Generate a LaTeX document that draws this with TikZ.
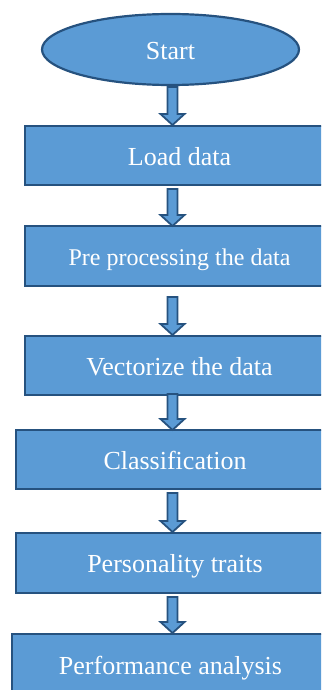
\documentclass[tikz,border=0pt]{standalone}
\usepackage{fontspec}
\setmainfont{Liberation Serif}
\usepackage{tikz}
\usetikzlibrary{shapes.geometric,calc,positioning}

\definecolor{boxblue}{HTML}{5B9BD5}
\definecolor{edgeblue}{HTML}{26527F}

% block arrow from the foot of one node down to the head of the next
\newcommand{\flowarrow}[4]{%
  \path (ax |- #1.south) ++(0,#3) coordinate (t) (ax |- #2.north) ++(0,-#4) coordinate (b);
  \draw[blockarr] ($(t)+(-5,0)$) -- ($(t)+(5,0)$) -- ($(b)+(5,-11)$) -- ($(b)+(12,-11)$)
    -- (b) -- ($(b)+(-12,-11)$) -- ($(b)+(-5,-11)$) -- cycle;}

\begin{document}
\begin{tikzpicture}[x=1pt, y=-1pt, line width=2.2pt,
    main/.style = {draw=edgeblue, fill=boxblue, text=white, outer sep=0pt,
      font=\fontsize{26}{30}\selectfont, text height=19.5pt, text depth=0pt},
    box/.style = {main, rectangle, minimum height=59pt, anchor=north west},
    blockarr/.style = {draw=edgeblue, fill=boxblue, line width=1.8pt, line join=miter}]
        \useasboundingbox (0,0) rectangle (321,690);
        \clip (0,0) rectangle (321,690);
        \coordinate (ax) at (172.5,0);

        \node[main, ellipse, minimum width=257pt, minimum height=71pt] (start) at (170.5,49.5) {Start};
        \node[box, minimum width=309pt] (load) at (25,126) {Load data};
        \node[box, minimum width=309pt, minimum height=60pt, font=\fontsize{24}{28}\selectfont, text height=18pt] (prep) at (25,226) {Pre processing the data};
        \node[box, minimum width=309pt] (vec) at (25,336) {Vectorize the data};
        \node[box, minimum width=318pt] (cls) at (16,430) {Classification};
        \node[box, minimum width=318pt, minimum height=60pt] (traits) at (16,533) {Personality traits};
        \node[box, minimum width=317pt, minimum height=62pt] (perf) at (12,634) {Performance analysis};

        \flowarrow{start}{load}{2}{1}
        \flowarrow{load}{prep}{4}{0}
        \flowarrow{prep}{vec}{11}{1}
        \flowarrow{vec}{cls}{-1}{0}
        \flowarrow{cls}{traits}{4}{1}
        \flowarrow{traits}{perf}{4}{1}

    \end{tikzpicture}
\end{document}
